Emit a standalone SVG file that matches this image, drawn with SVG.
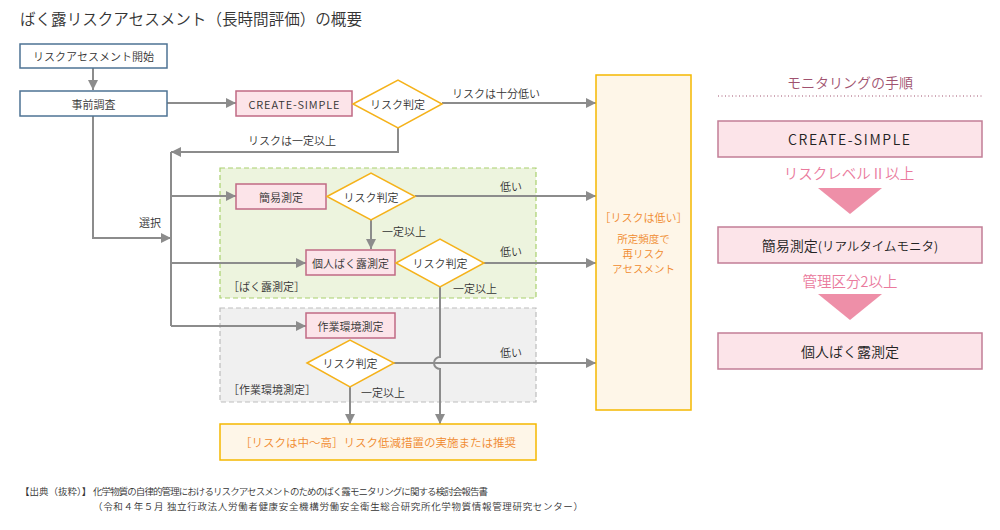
<svg xmlns="http://www.w3.org/2000/svg" width="1000" height="530" viewBox="0 0 1000 530">
<defs>
<marker id="ah" viewBox="0 0 10 10" refX="10" refY="5" markerWidth="11" markerHeight="10" markerUnits="userSpaceOnUse" orient="auto">
<path d="M0,0 L10,5 L0,10 z" fill="#8c8c8c"/>
</marker>
<style>
text{font-family:"Noto Sans CJK JP","Noto Sans",sans-serif;font-weight:350;}
.t{font-size:11px;fill:#333;text-anchor:middle;dominant-baseline:central;}
.l{font-size:11px;fill:#333;dominant-baseline:central;}
.blue{fill:#fff;stroke:#4e7394;stroke-width:1.5;}
.pink{fill:#fce4e9;stroke:#c06a84;stroke-width:1.5;}
.dia{fill:#fff;stroke:#f5b21a;stroke-width:1.5;}
.yel{fill:#fef6e8;stroke:#f5b800;stroke-width:1.5;}
.c{fill:none;stroke:#8c8c8c;stroke-width:2;}
.or{fill:#f08a2e;text-anchor:middle;dominant-baseline:central;}
.rp{fill:#fce4e9;stroke:#c27e96;stroke-width:1.5;}
.rt{font-size:14px;fill:#222;text-anchor:middle;dominant-baseline:central;}
.pk{font-size:14.5px;fill:#ea7a9d;text-anchor:middle;dominant-baseline:central;}
.tri{fill:#ee8fa8;}
.src{font-size:9.5px;fill:#333;}
</style>
</defs>
<rect width="1000" height="530" fill="#fff"/>
<text x="20" y="25" font-size="16" fill="#333" textLength="342" lengthAdjust="spacingAndGlyphs">ばく露リスクアセスメント（長時間評価）の概要</text>

<g id="regions">
<rect x="220" y="168" width="316" height="130" fill="#edf4de" stroke="#a9d06e" stroke-width="1.2" stroke-dasharray="5,3"/>
<text x="228" y="286" class="l">［ばく露測定］</text>
<rect x="220" y="308" width="316" height="94" fill="#f0f0f0" stroke="#bdbdbd" stroke-width="1.2" stroke-dasharray="5,3"/>
<text x="228" y="389" class="l">［作業環境測定］</text>
</g>

<g id="connectors">
<path class="c" d="M93,68 V90" marker-end="url(#ah)"/>
<path class="c" d="M167,103 H236" marker-end="url(#ah)"/>
<path class="c" d="M442,103 H596" marker-end="url(#ah)"/>
<path class="c" d="M398,128 V152 H171" marker-end="url(#ah)"/>
<path class="c" d="M93,116 V238 H171" marker-end="url(#ah)"/>
<path class="c" d="M171,152 V326"/>
<path class="c" d="M171,196 H236" marker-end="url(#ah)"/>
<path class="c" d="M171,263 H306" marker-end="url(#ah)"/>
<path class="c" d="M171,326 H306" marker-end="url(#ah)"/>
<path class="c" d="M415,196 H596" marker-end="url(#ah)"/>
<path class="c" d="M371,220 V249" marker-end="url(#ah)"/>
<path class="c" d="M484,263 H596" marker-end="url(#ah)"/>
<path class="c" d="M440,287 V357 A6,6 0 0 0 440,369 V424" marker-end="url(#ah)"/>
<path class="c" d="M394,363 H596" marker-end="url(#ah)"/>
<path class="c" d="M350,387 V424" marker-end="url(#ah)"/>
<text x="452" y="93" class="l">リスクは十分低い</text>
<text x="248" y="140" class="l">リスクは一定以上</text>
<text x="139" y="222" class="l">選択</text>
<text x="500" y="186" class="l">低い</text>
<text x="382" y="231" class="l">一定以上</text>
<text x="500" y="251" class="l">低い</text>
<text x="453" y="288" class="l">一定以上</text>
<text x="500" y="352" class="l">低い</text>
<text x="361" y="392" class="l">一定以上</text>
</g>

<g id="start">
<rect x="20" y="44" width="147" height="24" class="blue"/>
<text x="93.5" y="56" class="t">リスクアセスメント開始</text>
</g>
<g id="prior">
<rect x="20" y="91" width="147" height="25" class="blue"/>
<text x="93.5" y="103.5" class="t">事前調査</text>
</g>
<g id="cs">
<rect x="236" y="91" width="116" height="25" class="pink"/>
<text x="294" y="103.5" class="t" textLength="91" lengthAdjust="spacing">CREATE-SIMPLE</text>
</g>
<g id="judge1">
<polygon points="353,104 398,80 442,104 398,128" class="dia"/>
<text x="397.5" y="104" class="t">リスク判定</text>
</g>
<g id="simple">
<rect x="236" y="184" width="90" height="25" class="pink"/>
<text x="281" y="196.5" class="t">簡易測定</text>
</g>
<g id="judge2">
<polygon points="327,196.5 371,173 415,196.5 371,220" class="dia"/>
<text x="371" y="196.5" class="t">リスク判定</text>
</g>
<g id="personal">
<rect x="306" y="250" width="89" height="25" class="pink"/>
<text x="350.5" y="262.5" class="t">個人ばく露測定</text>
</g>
<g id="judge3">
<polygon points="396,263 440,239 484,263 440,287" class="dia"/>
<text x="440" y="263" class="t">リスク判定</text>
</g>
<g id="workenv">
<rect x="306" y="313" width="89" height="25" class="pink"/>
<text x="350.5" y="325.5" class="t">作業環境測定</text>
</g>
<g id="judge4">
<polygon points="307,363 350,340 394,363 350,387" class="dia"/>
<text x="350" y="363" class="t">リスク判定</text>
</g>
<g id="low">
<rect x="596" y="75" width="95" height="335" class="yel"/>
<text x="643.5" y="217" class="or" font-size="11">［リスクは低い］</text>
<text x="643.5" y="238" class="or" font-size="10.5">所定頻度で</text>
<text x="643.5" y="253" class="or" font-size="10.5">再リスク</text>
<text x="643.5" y="268" class="or" font-size="10.5">アセスメント</text>
</g>
<g id="high">
<rect x="220" y="424" width="316" height="36" class="yel"/>
<text x="378" y="442" class="or" font-size="11.5">［リスクは中～高］リスク低減措置の実施または推奨</text>
</g>

<g id="monitoring">
<text x="850" y="82" font-size="14" fill="#a0526f" text-anchor="middle" dominant-baseline="central">モニタリングの手順</text>
<line x1="718" y1="96" x2="983" y2="96" stroke="#a0526f" stroke-width="1" stroke-dasharray="1,2.5"/>
</g>
<g id="m-cs">
<rect x="718" y="121" width="264" height="36" class="rp"/>
<text x="849" y="139" class="rt" textLength="122" lengthAdjust="spacing">CREATE-SIMPLE</text>
</g>
<g id="m-step1">
<text x="849" y="172" class="pk">リスクレベルⅡ以上</text>
<polygon points="818,188 882,188 850,214" class="tri"/>
</g>
<g id="m-simple">
<rect x="718" y="227" width="264" height="36" class="rp"/>
<text x="850" y="245" class="rt">簡易測定<tspan font-size="12.5">(リアルタイムモニタ)</tspan></text>
</g>
<g id="m-step2">
<text x="850" y="280" class="pk">管理区分2以上</text>
<polygon points="818,294 882,294 850,320" class="tri"/>
</g>
<g id="m-personal">
<rect x="718" y="333" width="264" height="36" class="rp"/>
<text x="850" y="351" class="rt">個人ばく露測定</text>
</g>

<g id="source">
<text x="20" y="495" class="src">【出典（抜粋）】</text>
<text x="93" y="495" class="src" textLength="395" lengthAdjust="spacing">化学物質の自律的管理におけるリスクアセスメントのためのばく露モニタリングに関する検討会報告書</text>
<text x="93" y="510" class="src" textLength="490" lengthAdjust="spacing">（令和４年５月 独立行政法人労働者健康安全機構労働安全衛生総合研究所化学物質情報管理研究センター）</text>
</g>
</svg>
